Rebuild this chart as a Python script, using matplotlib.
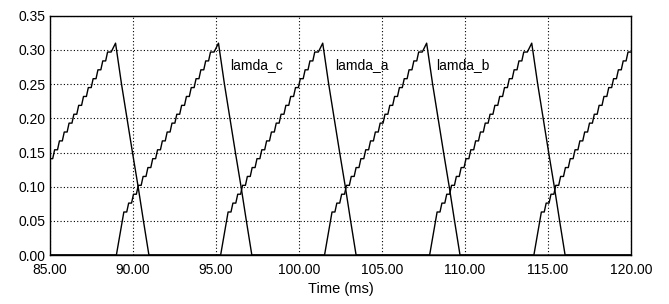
import matplotlib.pyplot as plt

plt.rcParams['font.family'] = ['Liberation Sans', 'DejaVu Sans']

# -----------------------------
# Data (time in ms)
# -----------------------------

# peak instants of each phase flux
peaks_a = [101.43, 120.30]
peaks_b = [88.95, 107.69]
peaks_c = [95.15, 114.02]

# rising staircase, offsets (ms) relative to the peak
rise_start = -6.15
step_offsets = [-5.70, -5.41, -5.12, -4.83, -4.54, -4.25, -3.96, -3.67, -3.38, -3.09,
                -2.80, -2.51, -2.22, -1.93, -1.64, -1.35, -1.06, -0.77, -0.48]
step_levels = [0.063, 0.076, 0.089, 0.102, 0.115, 0.128, 0.141, 0.154, 0.167, 0.180,
               0.193, 0.206, 0.219, 0.232, 0.245, 0.258, 0.271, 0.284, 0.297]
peak_level = 0.31

# falling edge after the peak
fall_offsets = [0.36, 0.69, 1.02, 1.36, 1.68, 2.01]
fall_levels = [0.25, 0.20, 0.15, 0.10, 0.05, 0.0]

labels = ["lamda_c", "lamda_a", "lamda_b"]
label_x = [95.85, 102.15, 108.25]
label_y = 0.278

x_ticks = [85, 90, 95, 100, 105, 110, 115, 120]
y_ticks = [0.00, 0.05, 0.10, 0.15, 0.20, 0.25, 0.30, 0.35]


def phase_trace(peaks):
    t = [78.0]
    v = [0.0]
    for p in peaks:
        t.append(p + rise_start)
        v.append(0.0)
        for k, (o, lv) in enumerate(zip(step_offsets, step_levels)):
            t.append(p + o)
            v.append(lv)
            nxt = step_offsets[k + 1] if k + 1 < len(step_offsets) else -0.12
            t.append(p + o + 0.6 * (nxt - o))
            v.append(lv)
        t.append(p)
        v.append(peak_level)
        for o, lv in zip(fall_offsets, fall_levels):
            t.append(p + o)
            v.append(lv)
    t.append(125.0)
    v.append(0.0)
    return t, v


fig = plt.figure(figsize=(6.69, 3.04), dpi=100)
ax = fig.add_axes([0.0747, 0.161, 0.8685, 0.787])

for peaks in (peaks_a, peaks_b, peaks_c):
    t, v = phase_trace(peaks)
    ax.plot(t, v, color="black", lw=1.0)

for name, lx in zip(labels, label_x):
    ax.text(lx, label_y, name, fontsize=10, va="center", ha="left")

ax.set_xlim(85, 120)
ax.set_ylim(0, 0.35)
ax.set_xticks(x_ticks)
ax.set_xticklabels([f"{x:.2f}" for x in x_ticks])
ax.set_yticks(y_ticks)
ax.set_yticklabels([f"{y:.2f}" for y in y_ticks])
ax.tick_params(length=0, labelsize=10, colors="black")
ax.tick_params(axis="x", pad=6)
ax.tick_params(axis="y", pad=3)
ax.grid(True, color="black", linestyle=(0, (1, 2)), lw=0.8)
for s in ax.spines.values():
    s.set_color("black")
    s.set_linewidth(1.0)
ax.set_xlabel("Time (ms)", fontsize=10.5, labelpad=3)

plt.savefig("out.png", dpi=100)
